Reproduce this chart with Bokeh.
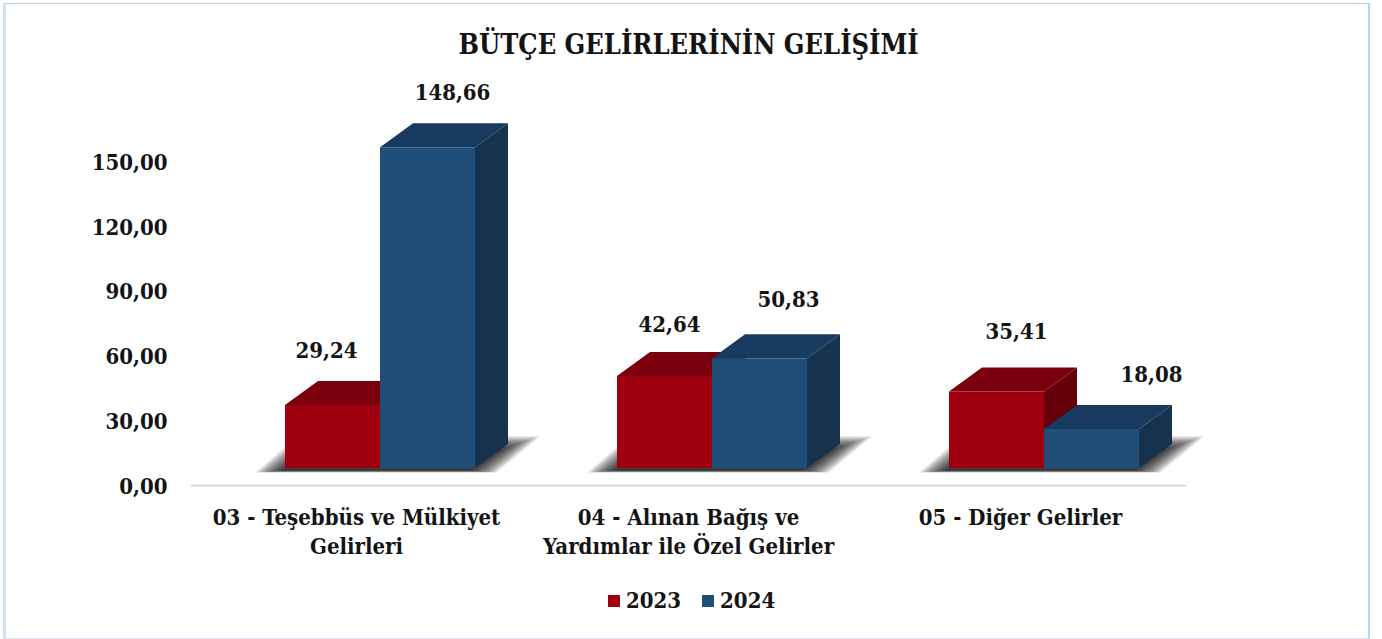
from bokeh.plotting import figure
from bokeh.models import (ColumnDataSource, Range1d, FixedTicker, Legend, LegendItem,
                          InlineStyleSheet)
from bokeh.core.properties import value
from bokeh.embed import file_html
from bokeh.resources import INLINE

categories = ["03 - Teşebbüs ve Mülkiyet\nGelirleri",
              "04 - Alınan Bağış ve\nYardımlar ile Özel Gelirler",
              "05 - Diğer Gelirler"]
series_names = ["2023", "2024"]
values_2023 = [29.24, 42.64, 35.41]
values_2024 = [148.66, 50.83, 18.08]
y_ticks = [0, 30, 60, 90, 120, 150]
y_tick_labels = ["0,00", "30,00", "60,00", "90,00", "120,00", "150,00"]
title_text = "BÜTÇE GELİRLERİNİN GELİŞİMİ"

# label placement relative to top-centre of each bar's front face (screen px)
label_dx_2023 = [-6, 5, 20]
label_dx_2024 = [25, 29, 60]
label_dy_2023 = [-55, -52, -61]
label_dy_2024 = [-55, -59, -55]

FONT = "DejaVu Serif Condensed"
INK = "#141414"
W, H = 1382, 639
FL, FR, FT, FB = 190, 1212, 70, 625
ZERO_Y = 485                  # pixel row of value 0
AXIS_END = 1186
PX_PER_UNIT = 2.158
PXX = 3 / (AXIS_END - FL)     # x-units per pixel
PXY = 1 / PX_PER_UNIT         # y-units per pixel
BAR_W = 95 * PXX
DX, DY = 33 * PXX, 24 * PXY
FLOOR = 17.5 * PXY
SHIFT = 23.5 * PXX            # group centre relative to the category centre

p = figure(width=W, height=H, output_backend="svg", toolbar_location=None,
           x_range=Range1d(0, (FR - FL) * PXX),
           y_range=Range1d(-(FB - ZERO_Y) * PXY, (ZERO_Y - FT) * PXY),
           frame_width=FR - FL, frame_height=FB - FT,
           min_border_left=FL, min_border_right=W - FR, min_border_top=FT,
           min_border_bottom=H - FB,
           outline_line_color=None, background_fill_color="white",
           border_fill_color="white")

p.stylesheets = [InlineStyleSheet(css=""":host::after {
  content: ""; position: absolute; left: 3px; top: 3px; width: 1367px; height: 635.5px;
  box-sizing: border-box; pointer-events: none; z-index: 5;
  border-left: 3px solid #cfe2f3; border-top: 1.5px solid #b8d3ec;
  border-right: 2px solid #b8d3ec; border-bottom: 1.5px solid #dbe8f5;
}""")]

p.title.text = title_text
p.title.align = "left"
p.title.text_font = FONT
p.title.text_font_size = "27px"
p.title.text_font_style = "bold"
p.title.text_color = INK
p.title.offset = 268
p.title.standoff = 21

p.grid.visible = False
yax, xax = p.yaxis[0], p.xaxis[0]
yax.ticker = FixedTicker(ticks=y_ticks)
yax.major_label_overrides = dict(zip(y_ticks, y_tick_labels))
yax.axis_line_color = None
yax.major_tick_line_color = None
yax.minor_tick_line_color = None
yax.major_label_standoff = 17
xs_cat = [i + 0.5 for i in range(len(categories))]
xax.ticker = FixedTicker(ticks=xs_cat)
xax.bounds = (0, 3)
xax.fixed_location = 0
xax.major_label_overrides = dict(zip(xs_cat, categories))
xax.axis_line_color = "#d9d9d9"
xax.axis_line_width = 2
xax.major_tick_line_color = None
xax.minor_tick_line_color = None
xax.major_label_standoff = 12
xax.major_label_text_line_height = 1.15
for ax, size in ((yax, "22px"), (xax, "22px")):
    ax.major_label_text_font = FONT
    ax.major_label_text_font_size = size
    ax.major_label_text_font_style = "bold"
    ax.major_label_text_color = INK

# soft floor shadows
N = 24
for k in range(N):
    t = k / (N - 1)
    def mix(a, b):
        return a + (b - a) * t
    xs, ys = [], []
    for c in xs_cat:
        x0 = c + SHIFT - BAR_W
        x1 = c + SHIFT + BAR_W
        xs.append([x0 + mix(-30, -2) * PXX, x0 + mix(12, 30) * PXX,
                   x1 + mix(66, 25) * PXX, x1 + mix(22, -5) * PXX])
        ys.append([FLOOR + mix(-4.5, -2.5) * PXY, FLOOR + mix(32, 18) * PXY,
                   FLOOR + mix(32, 18) * PXY, FLOOR + mix(-4.5, -2.5) * PXY])
    p.patches(xs, ys, fill_color="#000000", fill_alpha=0.055, line_color=None)

# bars
palette = {"2023": ("#9e0010", "#7a000d", "#65000a"),
           "2024": ("#1f4e79", "#173a5e", "#16324f")}
fronts = {}
for name, vals, sign in (("2023", values_2023, -1), ("2024", values_2024, 1)):
    front_col, top_col, side_col = palette[name]
    lefts = [c + SHIFT + (0 if sign > 0 else -BAR_W) for c in xs_cat]
    rights = [l + BAR_W for l in lefts]
    tops = [FLOOR + v for v in vals]
    bottoms = [FLOOR] * len(vals)
    p.patches([[r, r + DX, r + DX, r] for r in rights],
              [[b, b + DY, t + DY, t] for b, t in zip(bottoms, tops)],
              fill_color=side_col, line_color=None)
    p.patches([[l, l + DX, r + DX, r] for l, r in zip(lefts, rights)],
              [[t, t + DY, t + DY, t] for t in tops],
              fill_color=top_col, line_color=None)
    fronts[name] = p.quad(left=lefts, right=rights, top=tops, bottom=bottoms,
                          fill_color=front_col, line_color=None)

# data labels
for vals, dxs, dys, sign in ((values_2023, label_dx_2023, label_dy_2023, -1),
                             (values_2024, label_dx_2024, label_dy_2024, 1)):
    src = ColumnDataSource(dict(
        x=[c + SHIFT + sign * BAR_W / 2 for c in xs_cat],
        y=[FLOOR + v for v in vals],
        t=[f"{v:.2f}".replace(".", ",") for v in vals],
        dx=dxs, dy=dys))
    p.text("x", "y", text="t", source=src, x_offset="dx", y_offset="dy",
           text_font=value(FONT), text_font_size="22px", text_font_style="bold",
           text_color=INK, text_align="center", text_baseline="middle")

legend = Legend(items=[LegendItem(label=n, renderers=[fronts[n]]) for n in series_names],
                orientation="horizontal", location=(416, 12), border_line_color=None,
                background_fill_alpha=0, glyph_width=15, glyph_height=15,
                label_standoff=5, spacing=19, padding=0, margin=0,
                label_text_font=FONT, label_text_font_size="22px",
                label_text_font_style="bold", label_text_color=INK)
p.add_layout(legend, "center")

open("out.html", "w").write(file_html(p, INLINE))
